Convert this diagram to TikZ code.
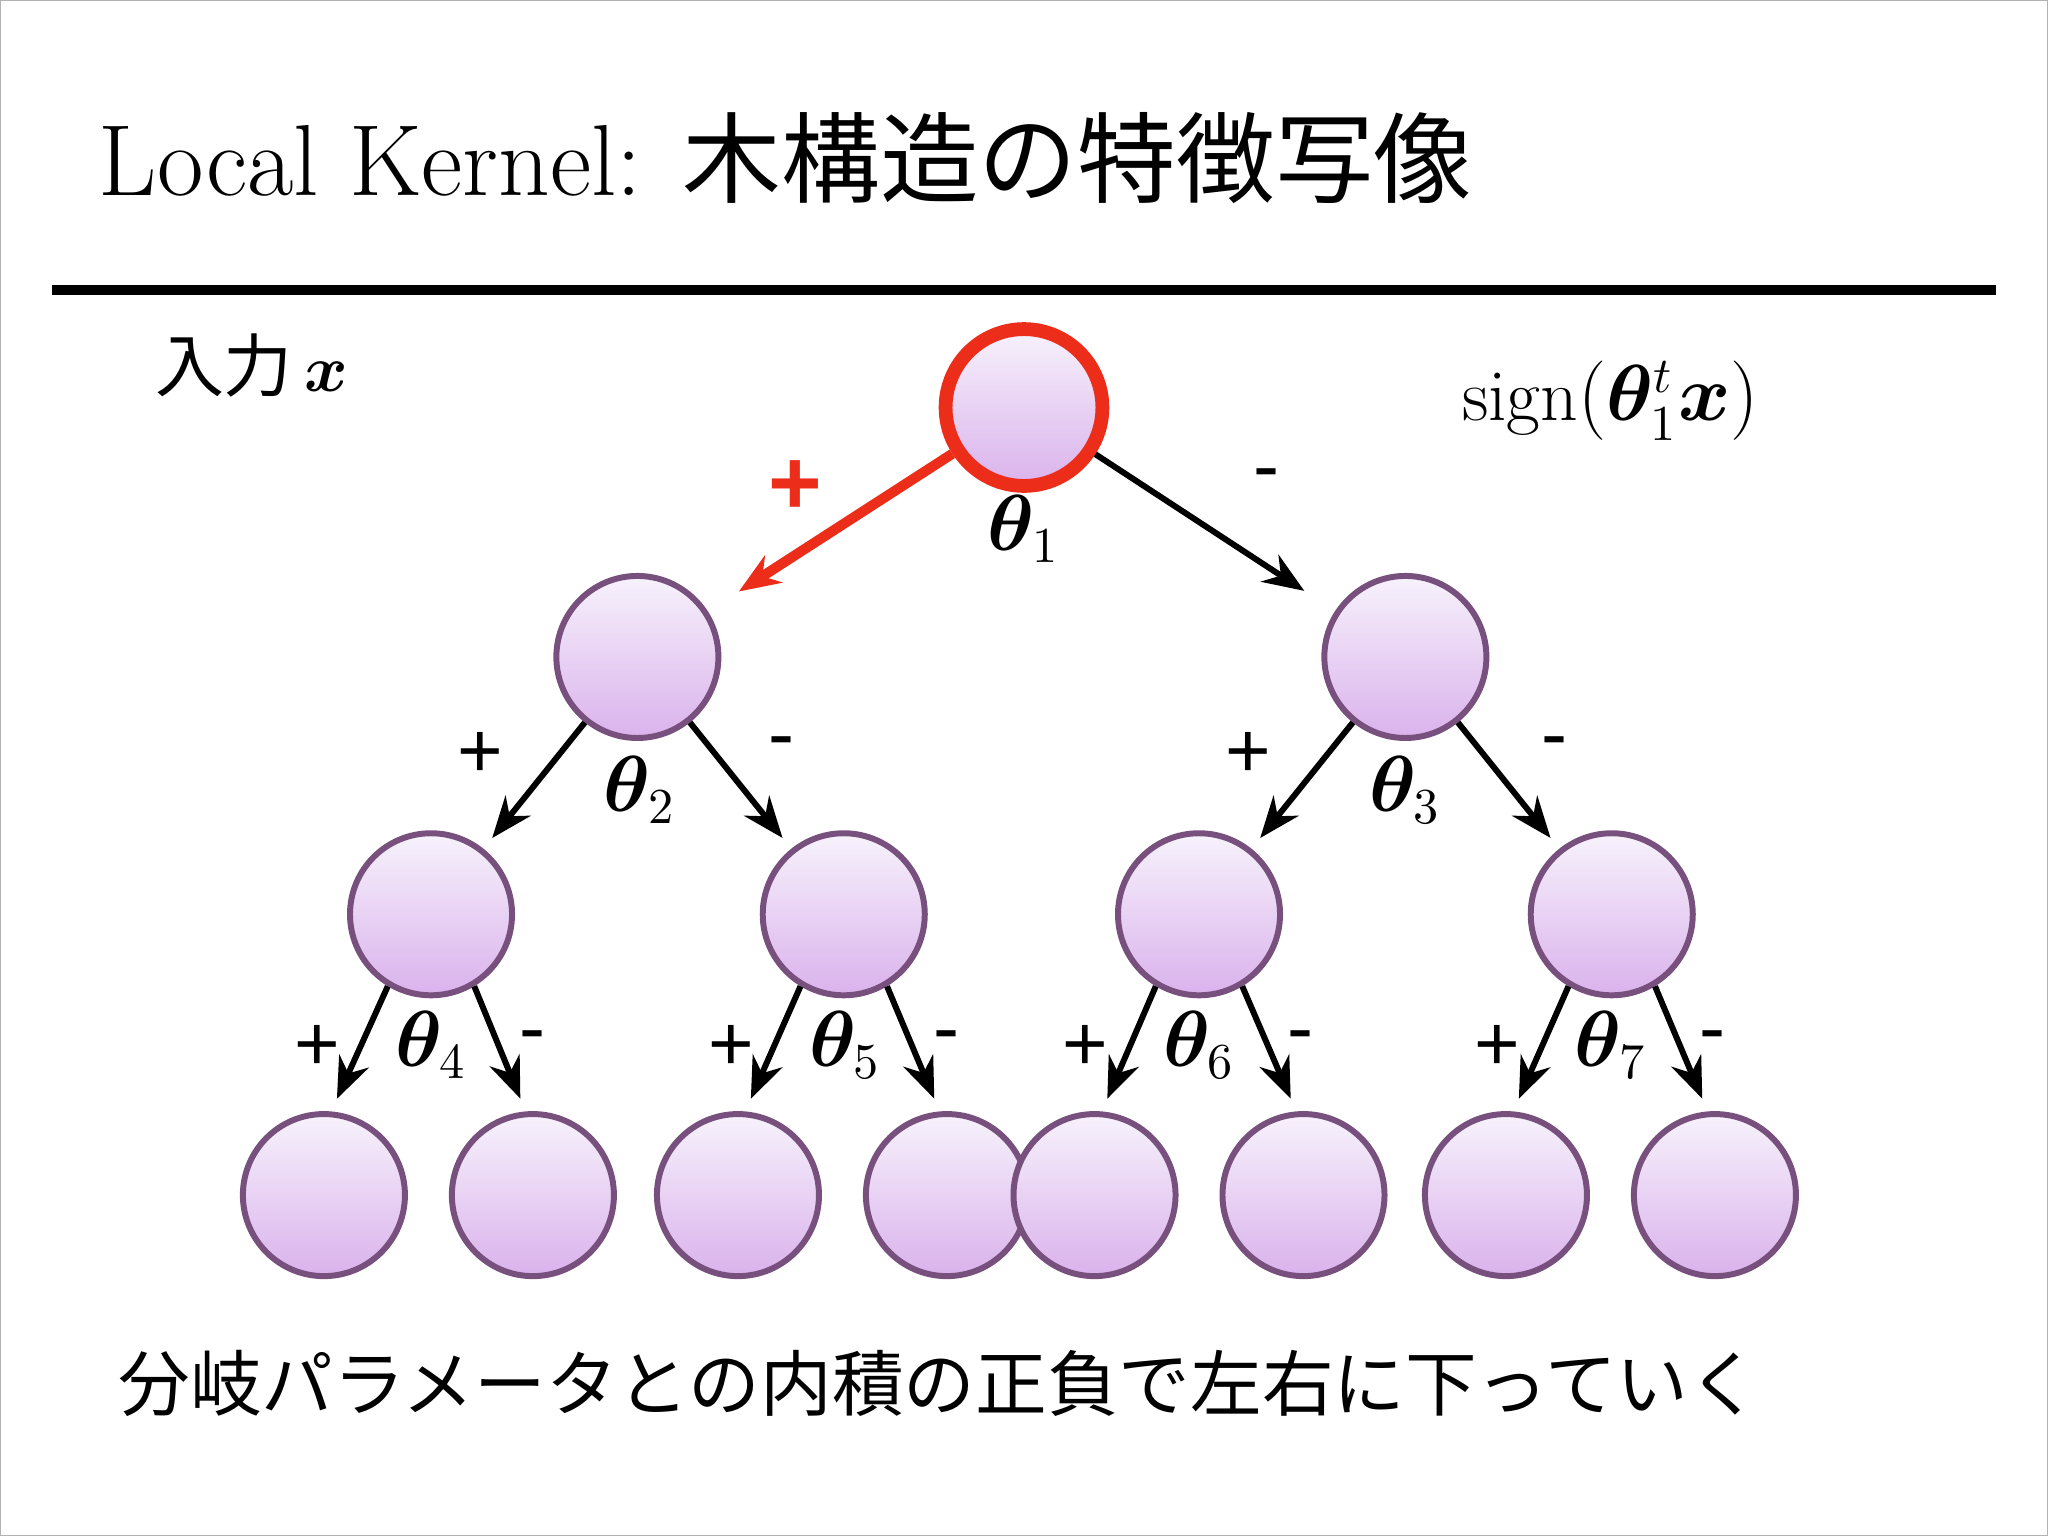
\documentclass[tikz,border=0pt]{standalone}
\usepackage{amsmath,bm}
\usepackage{fontspec}
\newfontfamily\jp{Noto Sans CJK JP}
\newfontfamily\sans{Liberation Sans}
\usetikzlibrary{arrows.meta}
\tikzset{
 nd/.style={circle,minimum size=1.24cm,inner sep=0pt,draw={rgb,255:red,120;green,80;blue,125},line width=1.3pt,top color={rgb,255:red,247;green,242;blue,252},bottom color={rgb,255:red,218;green,178;blue,236}},
 ar/.style={-{Stealth[length=9pt,width=7pt]},line width=1.3pt,shorten >=3pt},
 lb/.style={font=\fontsize{16}{20}\selectfont},
 pm/.style={font=\sans\fontsize{17}{20}\selectfont}
}
\begin{document}
\begin{tikzpicture}[x=0.01cm,y=-0.01cm]
\useasboundingbox (0,0) rectangle (1568,1176);
\draw[gray!60] (0,0) rectangle (1568,1176);
\node[anchor=base west,inner sep=0] (title) at (75,150) {\fontsize{22}{26}\selectfont Local Kernel: {\jp\fontsize{21.5}{26}\selectfont 木構造の特徴写像}};
\draw[line width=2pt] (40,222) -- (1528,222);
\node[anchor=base west,inner sep=0] (inp) at (118,300) {\jp\fontsize{15}{18}\selectfont 入力\,$\bm{x}$};
\node[lb] (sg) at (1233,307) {$\mathrm{sign}(\bm{\theta}_1^t\bm{x})$};
\node[nd,minimum size=1.2cm,draw={rgb,255:red,235;green,45;blue,25},line width=3pt] (n1) at (784,312) {};
\node[nd] (n2) at (488,503) {};
\node[nd] (n3) at (1076,503) {};
\node[nd] (n4) at (330,700) {};
\node[nd] (n5) at (646,700) {};
\node[nd] (n6) at (918,700) {};
\node[nd] (n7) at (1234,700) {};
\foreach \i/\x in {8/248,9/408,10/565,11/725,12/838,13/998,14/1153,15/1313}
  \node[nd] (n\i) at (\x,915) {};
\draw[ar,line width=2.2pt,draw={rgb,255:red,235;green,45;blue,25},shorten >=8pt] (n1) -- (n2);
\draw[ar,shorten >=8pt] (n1) -- (n3);
\foreach \p/\a/\b in {2/4/5,3/6/7}{
  \draw[ar] (n\p) -- (n\a);
  \draw[ar] (n\p) -- (n\b);
}
\foreach \p/\a/\b in {4/8/9,5/10/11,6/12/13,7/14/15}{
  \draw[ar] (n\p.-121) -- (n\a.85);
  \draw[ar] (n\p.-59) -- (n\b.95);
}
\node[font=\sans\bfseries\fontsize{20}{24}\selectfont,text={rgb,255:red,235;green,45;blue,25}] (pr) at (609,373) {+};
\node[pm] (m1) at (970,368) {-};
\node[lb] (t1) at (784,405) {$\bm{\theta}_1$};
\node[lb] (t2) at (490,605) {$\bm{\theta}_2$};
\node[lb] (t3) at (1076,605) {$\bm{\theta}_3$};
\node[pm] (p2) at (368,578) {+};
\node[pm] (m2) at (598,573) {-};
\node[pm] (p3) at (956,578) {+};
\node[pm] (m3) at (1190,573) {-};
\foreach \k/\x in {4/330,5/647,6/918,7/1233}{
  \node[lb,inner sep=0pt] (t\k) at (\x,800) {$\bm{\theta}_\k$};
  \node[pm] (p\k) at (\x-87,802) {+};
  \node[pm] (m\k) at (\x+78,798) {-};
}
\node[anchor=base west,inner sep=0] (cap) at (90,1080) {\jp\fontsize{15.6}{18}\selectfont 分岐パラメータとの内積の正負で左右に下っていく};
\end{tikzpicture}
\end{document}
